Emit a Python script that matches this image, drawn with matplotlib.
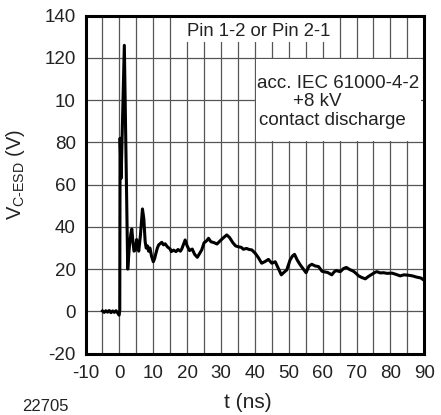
import matplotlib
matplotlib.use("Agg")
import matplotlib.pyplot as plt
from matplotlib.patches import Rectangle
from matplotlib.ticker import MultipleLocator

plt.rcParams['font.family'] = ['Liberation Sans', 'DejaVu Sans']
plt.rcParams['axes.unicode_minus'] = False
plt.rcParams['mathtext.fontset'] = 'custom'
plt.rcParams['mathtext.rm'] = 'Liberation Sans'
plt.rcParams['mathtext.it'] = 'Liberation Sans'

# ESD waveform (t in ns, V in volts)
t_ns = [-5.0, -4.5, -4.0, -3.5, -3.0, -2.5, -2.0, -1.5, -1.0, -0.5, -0.1, 0.1,
        0.2, 0.5, 1.45, 2.45, 2.9, 3.4, 3.65, 4.0, 4.3, 4.7, 5.1, 5.4, 5.7,
        6.2, 6.8, 7.2, 7.6, 7.9, 8.3, 8.6, 9.0, 9.5, 10.0, 10.4, 10.7, 11.2,
        11.6, 12.5, 13.0, 13.5, 14.2, 15.0, 15.3, 16.0, 16.7, 17.3, 18.0,
        18.4, 19.0, 19.4, 20.0, 20.7, 21.5, 22.2, 23.0, 23.7, 24.3, 25.0,
        25.8, 26.3, 27.0, 28.0, 28.8, 29.8, 30.8, 31.7, 32.5, 33.5, 34.3,
        35.1, 36.0, 36.6, 37.5, 38.3, 39.1, 40.1, 41.0, 42.0, 43.0, 44.0,
        45.0, 46.0, 47.0, 47.8, 48.6, 49.4, 50.4, 51.1, 51.7, 52.5, 53.4,
        54.3, 55.1, 56.0, 56.8, 57.8, 58.8, 59.8, 60.3, 61.5, 62.7, 63.4,
        64.0, 65.2, 66.2, 67.0, 68.0, 69.1, 70.0, 70.6, 71.6, 72.6, 73.5,
        74.5, 75.5, 76.0, 77.0, 78.0, 79.0, 80.5, 81.7, 82.9, 84.0, 85.4,
        86.5, 87.8, 89.0, 89.8]
v_esd = [0.2, -0.5, 0.3, -0.4, 0.4, -0.6, 0.2, -0.5, 0.3, -0.8, -1.8, 0.5,
         82, 63, 126, 20, 30, 37, 39, 33, 28.5, 29, 34, 31, 28.5,
         36, 48.5, 44, 33, 30, 31, 28.5, 30, 26, 23.5, 25, 27, 30,
         31.5, 32.7, 31.5, 32, 30.5, 29.5, 28.3, 29, 28.3, 29.3, 28.5,
         29.5, 32, 33.8, 31, 28.8, 29.5, 27, 25.6, 27.5, 29.1, 32.5,
         33.5, 34.6, 33, 32.5, 31.9, 33.5, 35, 36.2, 35, 32.5, 31,
         30.6, 30.3, 29.4, 29.8, 29.3, 29.1, 27.5, 25.5, 22.8, 23.6, 24.6,
         22.8, 23.5, 20, 17.3, 18.5, 19.6, 24.4, 26.2, 27, 24.3, 22,
         20, 18.3, 21.5, 22.3, 21.5, 21.2, 19, 18.8, 18.4, 17.3, 18.7,
         19.3, 18.8, 20.3, 20.8, 19.8, 19, 17.8, 16.8, 16, 15.4, 16.5,
         17.5, 18.5, 18.8, 18.2, 18.3, 18, 18.1, 17.5, 16.8, 17.3, 17.1,
         16.8, 16.2, 15.8, 14.9]

y_ticks = [-20, 0, 20, 40, 60, 80, 100, 120, 140]
y_tick_labels = ['-20', '0', '20', '40', '60', '80', '10', '120', '140']
x_ticks = [-10, 0, 10, 20, 30, 40, 50, 60, 70, 80, 90]

fig = plt.figure(figsize=(4.41, 4.15), dpi=100)
ax = fig.add_axes([0.194, 0.148, 0.768, 0.814])
ax.set_axisbelow(True)

ax.plot(t_ns, v_esd, color='black', lw=2.2, zorder=5)

ax.set_xlim(-10, 90)
ax.set_ylim(-20, 140)
ax.set_xticks(x_ticks)
ax.xaxis.set_minor_locator(MultipleLocator(5))
ax.set_yticks(y_ticks)
ax.set_yticklabels(y_tick_labels)
ax.grid(True, which='both', axis='x', color='#555555', lw=0.9)
ax.grid(True, which='major', axis='y', color='#555555', lw=0.9)
ax.tick_params(which='both', length=0, labelsize=13.5, colors='#222222')
ax.tick_params(axis='x', pad=8)
ax.tick_params(axis='y', pad=7)
for s in ax.spines.values():
    s.set_linewidth(2.2)
    s.set_zorder(6)

ax.set_xlabel('t (ns)', fontsize=15, color='#222222')
ax.xaxis.set_label_coords(0.48, -0.118)
ax.set_ylabel(r'V$_{\mathrm{C\text{-}ESD}}$ (V)', fontsize=14.5, color='#222222')
ax.yaxis.set_label_coords(-0.172, 0.53)

# white patches behind the annotations
ax.add_patch(Rectangle((18.8, 127.6), 44.3, 12.4, facecolor='white',
                       edgecolor='none', zorder=2))
ax.add_patch(Rectangle((40.4, 80.6), 48.7, 38.8, facecolor='white',
                       edgecolor='none', zorder=2))

ax.text(41.0, 132.6, 'Pin 1-2 or Pin 2-1', ha='center', va='center',
        fontsize=13.3, color='#222222', zorder=3)
ax.text(64.6, 108.0, 'acc. IEC 61000-4-2', ha='center', va='center',
        fontsize=13.5, color='#222222', zorder=3)
ax.text(58.4, 99.3, '+8 kV', ha='center', va='center',
        fontsize=13.5, color='#222222', zorder=3)
ax.text(62.8, 90.6, 'contact discharge', ha='center', va='center',
        fontsize=13.5, color='#222222', zorder=3)

fig.text(0.05, 0.01, '22705', fontsize=12, color='#222222')

fig.savefig('out.png', dpi=100)
